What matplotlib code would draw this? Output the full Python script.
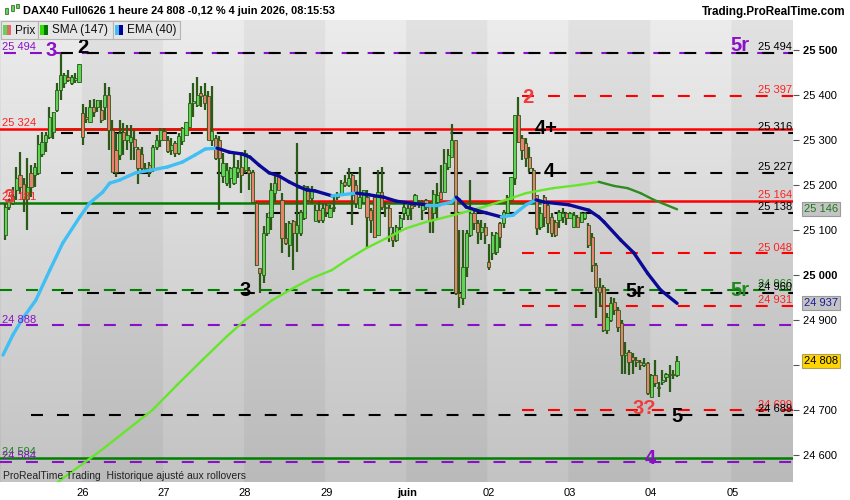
import numpy as np
import matplotlib
matplotlib.use("Agg")
import matplotlib.pyplot as plt
from matplotlib.collections import LineCollection
from matplotlib.patches import Rectangle
from matplotlib.transforms import blended_transform_factory

plt.rcParams['font.family'] = ['Liberation Sans', 'DejaVu Sans']
plt.rcParams['lines.scale_dashes'] = False

# ---------------- data (hourly bars, 22 bars per trading day) ----------------
first_bar = 1
bars_per_day = 22
day_labels = ['26', '27', '28', '29', 'juin', '02', '03', '04', '05']

opens = [
    # 25 May
    25089,25152,25160,25189,25222,25203,25170,25226,25222,25226,25270,25296,25307,25318,25366,25411,25426,25440,25426,25433,25428,
    # 26 May
    25359,25352,25340,25374,25374,25366,25374,25400,25322,25278,25266,25318,25300,25296,25303,25281,25270,25235,25244,25237,25285,25300,
    # 27 May
    25319,25300,25278,25293,25271,25297,25311,25330,25382,25378,25404,25400,25397,25300,25304,25300,25219,25204,25215,25204,25230,25241,
    # 28 May
    25234,25234,25230,25160,25015,25000,25093,25130,25182,25219,25167,25082,25067,25119,25093,25093,25126,25193,25171,25119,25145,25122,
    # 29 May
    25155,25130,25148,25174,25181,25207,25200,25222,25200,25148,25163,25174,25144,25174,25089,25185,25152,25148,25093,25078,25107,25137,
    # 1 June
    25133,25155,25163,25159,25144,25167,25155,25137,25163,25185,25185,25241,25263,25300,24959,24948,25018,25089,25137,25115,25096,25107,
    # 2 June
    25030,25048,25052,25115,25115,25137,25167,25215,25356,25304,25293,25263,25233,25178,25107,25174,25155,25130,25118,25122,25130,25137,
    # 3 June
    25126,25107,25130,25118,25126,25111,25085,25022,24974,24974,24878,24900,24941,24922,24893,24822,24830,24818,24811,24807,24800,24804,
    # 4 June
    24730,24778,24752,24763,24774,24778,24781,24778,
]
highs = [
    25160,25170,25196,25240,25274,25215,25260,25244,25248,25311,25318,25318,25374,25363,25426,25492,25448,25455,25444,25448,25470,
    25381,25374,25389,25392,25389,25389,25426,25418,25344,25315,25344,25337,25333,25333,25322,25285,25285,25248,25252,25289,25311,25326,
    25326,25308,25304,25297,25315,25330,25341,25404,25426,25441,25419,25426,25408,25419,25311,25308,25271,25249,25241,25271,25256,25271,
    25278,25241,25234,25163,25015,25108,25137,25204,25222,25222,25182,25115,25119,25122,25293,25145,25200,25197,25197,25156,25163,25160,
    25159,25155,25174,25185,25211,25222,25237,25226,25211,25241,25189,25189,25148,25178,25233,25241,25163,25155,25107,25111,25133,25159,
    25155,25163,25181,25167,25167,25170,25163,25189,25204,25244,25281,25281,25335,25300,25100,25100,25100,25211,25150,25122,25122,25115,
    25070,25096,25096,25118,25144,25178,25218,25356,25396,25311,25304,25285,25237,25178,25152,25178,25163,25137,25122,25144,25148,25141,
    25141,25141,25133,25141,25141,25115,25093,25026,24993,24978,24915,24952,24948,24930,24900,24852,24833,24826,24818,24811,24815,24807,
    24781,24811,24763,24789,24783,24800,24789,24820,
]
lows = [
    25078,25145,25155,25166,25181,25141,25100,25174,25196,25222,25263,25274,25303,25303,25363,25389,25415,25430,25422,25426,25426,
    25289,25337,25337,25352,25363,25337,25344,25278,25229,25218,25255,25266,25278,25255,25255,25203,25226,25233,25218,25229,25278,25285,
    25297,25271,25267,25263,25267,25289,25311,25326,25352,25374,25374,25367,25300,25286,25256,25145,25204,25197,25193,25200,25215,25182,
    25226,25189,25160,25019,24960,24982,25086,25100,25163,25189,25048,25067,25041,25011,25052,25086,25122,25163,25160,25119,25115,25115,
    25130,25126,25141,25167,25178,25196,25196,25111,25148,25148,25159,25063,25093,25082,25089,25144,25130,25074,25063,25074,25100,25122,
    25122,25122,25152,25148,25122,25144,25093,25093,25122,25167,25185,25233,25263,24955,24926,24933,24996,25085,25100,25070,25078,25070,
    25011,25033,25044,25059,25104,25137,25167,25200,25293,25256,25241,25230,25163,25089,25100,25107,25093,25085,25085,25104,25115,25111,
    25126,25104,25107,25115,25122,25059,25007,24904,24930,24874,24870,24896,24911,24874,24781,24781,24778,24781,24796,24789,24796,24733,
    24730,24752,24730,24756,24763,24741,24770,24774,
]
closes = [
    25152,25166,25175,25215,25196,25170,25196,25196,25240,25292,25296,25311,25352,25363,25411,25444,25444,25433,25440,25437,25470,
    25307,25346,25374,25363,25389,25344,25400,25322,25229,25230,25315,25300,25311,25307,25285,25237,25237,25237,25229,25285,25300,25322,
    25300,25275,25289,25271,25308,25326,25341,25382,25386,25400,25397,25382,25300,25319,25260,25260,25249,25234,25237,25241,25237,25222,
    25271,25226,25163,25023,25004,25093,25130,25189,25204,25189,25082,25071,25115,25093,25111,25141,25197,25167,25186,25145,25122,25148,
    25141,25148,25152,25181,25204,25200,25215,25178,25159,25174,25189,25130,25122,25085,25185,25152,25148,25107,25078,25107,25126,25152,
    25148,25148,25178,25163,25159,25152,25122,25181,25178,25170,25248,25267,25300,24959,24952,25018,25093,25137,25115,25096,25107,25089,
    25018,25089,25093,25085,25141,25174,25218,25356,25296,25278,25259,25237,25167,25104,25137,25130,25115,25093,25089,25141,25137,25126,
    25137,25133,25107,25137,25137,25067,25022,24974,24963,24878,24907,24937,24922,24885,24822,24826,24807,24811,24807,24800,24804,24737,
    24778,24759,24748,24767,24781,24781,24778,24808,
]

# EMA(40) read at sample bars
ema_bar = [0.4,3.1,5.8,9.3,13.1,16.6,21.2,23.9,27.4,29.3,32,36.3,40.4,44.9,49,52.5,55.2,58.4,61.7,65.2,67.3,
           69.8,72.5,75.2,77.9,80.6,82.7,84.9,89.5,96.2,99.7,103.5,107,110.5,115.1,118.6,121.9,123.2,124,
           125.9,128.6,131.3,135.4,138.6,142.1,144.8,147,153.7,159.1,161.8,163.2,167.7,171.3,175,178.5,183]
ema_val = [24822,24867,24904,24944,25011,25071,25129,25160,25184,25204,25211,25227,25233,25240,25251,25267,25280,25282,
           25273,25269,25262,25244,25227,25220,25207,25196,25189,25187,25176,25182,25178,25173,25164,25160,25156,25156,
           25162,25173,25167,25151,25144,25138,25129,25133,25156,25167,25162,25156,25144,25129,25118,25078,25049,25004,
           24967,24937]
# SMA(147) read at sample bars
sma_bar = [15.25,27.1,40.9,47.6,54.4,61.1,66,73.3,79.5,84.1,89.5,93.5,98.9,104.3,109.7,115.1,122.4,130.5,
           136.7,142.1,149.4,156.4,161.8,165.9,169.6,173.1,176.7,183]
sma_val = [24540,24611,24700,24756,24811,24864,24900,24944,24973,24993,25011,25033,25060,25082,25104,25118,25133,
           25151,25167,25182,25193,25200,25207,25198,25193,25182,25167,25146]

# horizontal levels
level_price  = [25494, 25494, 25397, 25324, 25324, 25316, 25227, 25161, 25164, 25138, 25048,
                24966, 24960, 24931, 24888, 24699, 24689, 24594, 24584]
level_color  = ['#8a10c8', 'black', '#ff0000', '#ff0000', '#008000', 'black', 'black', '#008000', '#ff0000', 'black', '#ff0000',
                '#008000', 'black', '#ff0000', '#8a10c8', '#ff0000', 'black', '#008000', '#8a10c8']
level_dashed = [True, True, True, False, False, True, True, False, False, True, True,
                True, True, True, True, True, True, False, True]
level_start  = [0.67, 16, 141, -0.4, 14, 16, 16, -0.4, 69, 16, 141,
                -0.4, 16, 141, -0.4, 141, 8, -0.4, -0.4]
level_end    = [214.4, 214.4, 214.4, 214.4, 56, 214.4, 214.4, 146, 214.4, 214.4, 214.4,
                214.4, 214.4, 214.4, 214.4, 214.4, 214.4, 214.4, 214.4]

right_lbl_price = [25494, 25397, 25316, 25227, 25164, 25138, 25048, 24966, 24960, 24931, 24699, 24689]
right_lbl_color = ['black', '#ff2020', 'black', 'black', '#ff2020', 'black', '#ff2020', '#1a8a1a', 'black', '#ff2020', '#ff2020', 'black']
left_lbl_price = [25494, 25324, 25161, 24888, 24594, 24584]
left_lbl_text = ['25 494', '25 324', '25 181', '24 888', '24 594', '24 584']
left_lbl_color = ['#8a10c8', '#ff2020', '#ff2020', '#8a10c8', '#1a8a1a', '#8a10c8']

ann_text  = ['3', '2', '5r', '2', '4+', '4', '3', '3', '5r', '5r', '3?', '5', '4']
ann_bar   = [13.4, 22, 200.1, 142.6, 147.5, 148.3, 2, 66, 171.5, 200.1, 174, 182.9, 175.8]
ann_price = [25498, 25505, 25509, 25394, 25325, 25229, 25172, 24966, 24963, 24966, 24703, 24686, 24592]
ann_color = ['#8a10c8', 'black', '#8a10c8', '#f03c3c', 'black', 'black', '#f03c3c', 'black', 'black', '#1a8a1a', '#f03c3c', 'black', '#8a10c8']

last_price = 24808
sma_last = 25146
ema_last = 24937
yticks = list(range(24600, 25501, 100))

# ---------------- figure ----------------
W, H = 850, 500
fig = plt.figure(figsize=(8.5, 5), dpi=100)
fig.patch.set_facecolor('white')
AX_L, AX_R, AX_T, AX_B = 0, 793, 20, 482
ax = fig.add_axes([AX_L / W, 1 - AX_B / H, (AX_R - AX_L) / W, (AX_B - AX_T) / H])
X0, X1 = -0.4, 214.4
Y0, Y1 = 24540, 25566.7

# background: vertical gradient, alternating day columns
nx, ny = 900, 240
xs = np.linspace(X0, X1, nx)
day_of = np.floor((xs + 0.3) / bars_per_day).astype(int)
dark = (day_of % 2 == 1)
t = np.linspace(0, 1, ny)[:, None]
img_l = 0.925 + (0.765 - 0.925) * t
img_d = 0.885 + (0.730 - 0.885) * t
img = np.where(dark[None, :], img_d, img_l)
ax.imshow(np.dstack([img] * 3), extent=[X0, X1, Y0, Y1], aspect='auto', origin='upper',
          zorder=0, interpolation='bilinear')

# levels
DASH = (8.6, 10.1)
for p, c, d, s, e in zip(level_price, level_color, level_dashed, level_start, level_end):
    if d:
        ax.plot([s, e], [p, p], color=c, lw=1.5, linestyle=(0, DASH), zorder=2, solid_capstyle='butt',
                dash_capstyle='butt')
    else:
        ax.plot([s, e], [p, p], color=c, lw=1.8, zorder=2.2 if c == '#ff0000' else 2.1)

# candles
o = np.array(opens, float); h = np.array(highs, float)
l = np.array(lows, float); c = np.array(closes, float)
idx = np.arange(first_bar, first_bar + len(o))
up = c >= o
WICK = '#2b5a16'
ax.vlines(idx, l, h, color=WICK, lw=1.6, zorder=3)
bot = np.minimum(o, c)
hgt = np.maximum(np.abs(c - o), 2.0)
ax.bar(idx, hgt, bottom=bot, width=0.86, color=np.where(up, '#5fd35a', '#e8826f'),
       edgecolor=WICK, linewidth=0.6, zorder=4)

# moving averages colored by slope
def slope_line(xb, yv, c_up, c_dn, lw):
    xb = np.asarray(xb, float); yv = np.asarray(yv, float)
    segs = [[(xb[i], yv[i]), (xb[i + 1], yv[i + 1])] for i in range(len(xb) - 1)]
    cols = [c_up if yv[i + 1] >= yv[i] else c_dn for i in range(len(xb) - 1)]
    lc = LineCollection(segs, colors=cols, linewidths=lw, zorder=5, capstyle='round', joinstyle='round')
    ax.add_collection(lc)

slope_line(sma_bar, sma_val, '#66e62a', '#2e8b22', 1.7)
slope_line(ema_bar, ema_val, '#40bff5', '#0a0a96', 2.4)

# annotations
for tx, b, p, col in zip(ann_text, ann_bar, ann_price, ann_color):
    ax.text(b, p, tx, color=col, fontsize=14.5, fontweight='bold', ha='center', va='center', zorder=7)

# right-side level labels
for p, col in zip(right_lbl_price, right_lbl_color):
    ax.text(X1 - 0.3, p + 2, f"{p:,}".replace(',', ' '), color=col, fontsize=8, ha='right', va='bottom', zorder=6)
for p, tx, col in zip(left_lbl_price, left_lbl_text, left_lbl_color):
    ax.text(X0 + 0.6, p + 2, tx, color=col, fontsize=8, ha='left', va='bottom', zorder=6)

ax.text(0.004, 6 / 462, "ProRealTime Trading  Historique ajusté aux rollovers", transform=ax.transAxes,
        fontsize=7.5, color='#222222', ha='left', va='center', zorder=6)

ax.set_xlim(X0, X1)
ax.set_ylim(Y0, Y1)

# axes
ax.yaxis.tick_right()
ax.set_yticks(yticks)
ax.set_yticklabels([f"{v:,}".replace(',', ' ') for v in yticks])
for v, lab in zip(yticks, ax.get_yticklabels()):
    lab.set_fontsize(8)
    if v in (25500, 25000):
        lab.set_fontweight('bold')
ax.tick_params(axis='y', length=4, width=0.8, color='#555555', pad=3, labelcolor='black')
day_ticks = [bars_per_day * (k + 1) for k in range(len(day_labels))]
ax.set_xticks(day_ticks)
ax.set_xticklabels(day_labels)
for lab in ax.get_xticklabels():
    lab.set_fontsize(8)
    if lab.get_text() == 'juin':
        lab.set_fontweight('bold')
ax.tick_params(axis='x', length=0, pad=4)
for sp in ax.spines.values():
    sp.set_visible(False)

# axis value boxes
bt = blended_transform_factory(ax.transAxes, ax.transData)
ax.text(1.014, sma_last, f"{sma_last:,}".replace(',', ' '), transform=bt, fontsize=8, color='#1a7a1a',
        ha='left', va='center', clip_on=False, zorder=8,
        bbox=dict(boxstyle='square,pad=0.18', fc='#c4c4c4', ec='#9a9a9a', lw=0.8))
ax.text(1.014, ema_last, f"{ema_last:,}".replace(',', ' '), transform=bt, fontsize=8, color='#1a1a9a',
        ha='left', va='center', clip_on=False, zorder=8,
        bbox=dict(boxstyle='square,pad=0.18', fc='#c4c4c4', ec='#9a9a9a', lw=0.8))
ax.text(1.014, last_price, f"{last_price:,}".replace(',', ' '), transform=bt, fontsize=8, color='black',
        ha='left', va='center', clip_on=False, zorder=8,
        bbox=dict(boxstyle='square,pad=0.18', fc='#ffd400', ec='#b0a060', lw=0.8))

# header
def px_rect(x, y, w, hh, **kw):
    r = Rectangle((x / W, 1 - (y + hh) / H), w / W, hh / H, transform=fig.transFigure, **kw)
    fig.add_artist(r)
    return r

px_rect(0, 0, 850, 20, fc='white', ec='none', zorder=1)
# small candle icon
px_rect(5.5, 5, 0.8, 12, fc='#2b5a16', ec='none', zorder=2)
px_rect(4.5, 8, 3, 6, fc='#5fd35a', ec='#2b5a16', lw=0.5, zorder=3)
px_rect(11.5, 3, 0.8, 11, fc='#2b5a16', ec='none', zorder=2)
px_rect(10.5, 5, 3, 6, fc='#5fd35a', ec='#2b5a16', lw=0.5, zorder=3)
px_rect(16.5, 2, 0.8, 8, fc='#2b5a16', ec='none', zorder=2)
px_rect(15.5, 4, 3, 4, fc='#5fd35a', ec='#2b5a16', lw=0.5, zorder=3)
fig.text(23 / W, 1 - 11.5 / H, "DAX40 Full0626 1 heure 24 808 -0,12 % 4 juin 2026, 08:15:53",
         fontsize=7.9, fontweight='bold', ha='left', va='center', zorder=5)
fig.text(845 / W, 1 - 11.5 / H, "Trading.ProRealTime.com", fontsize=8.4, fontweight='bold',
         ha='right', va='center', zorder=5)

# legend tabs
tabs = [(1, 37, "Prix", '#5fd35a', '#e06a66'), (38, 75, "SMA (147)", '#33dd00', '#007700'),
        (113, 67, "EMA (40)", '#40bff5', '#000099')]
for x, w, label, c1, c2 in tabs:
    px_rect(x, 21, w, 18, fc='#e6e6e6', ec='#b4b4b4', lw=0.8, zorder=4)
    px_rect(x + 2, 25, 4, 10, fc=c1, ec='none', zorder=5)
    px_rect(x + 6, 25, 4, 10, fc=c2, ec='none', zorder=5)
    fig.text((x + 14) / W, 1 - 30.5 / H, label, fontsize=8.5, color='#111111', ha='left', va='center', zorder=6)

fig.savefig("out.png", dpi=100, facecolor='white')
